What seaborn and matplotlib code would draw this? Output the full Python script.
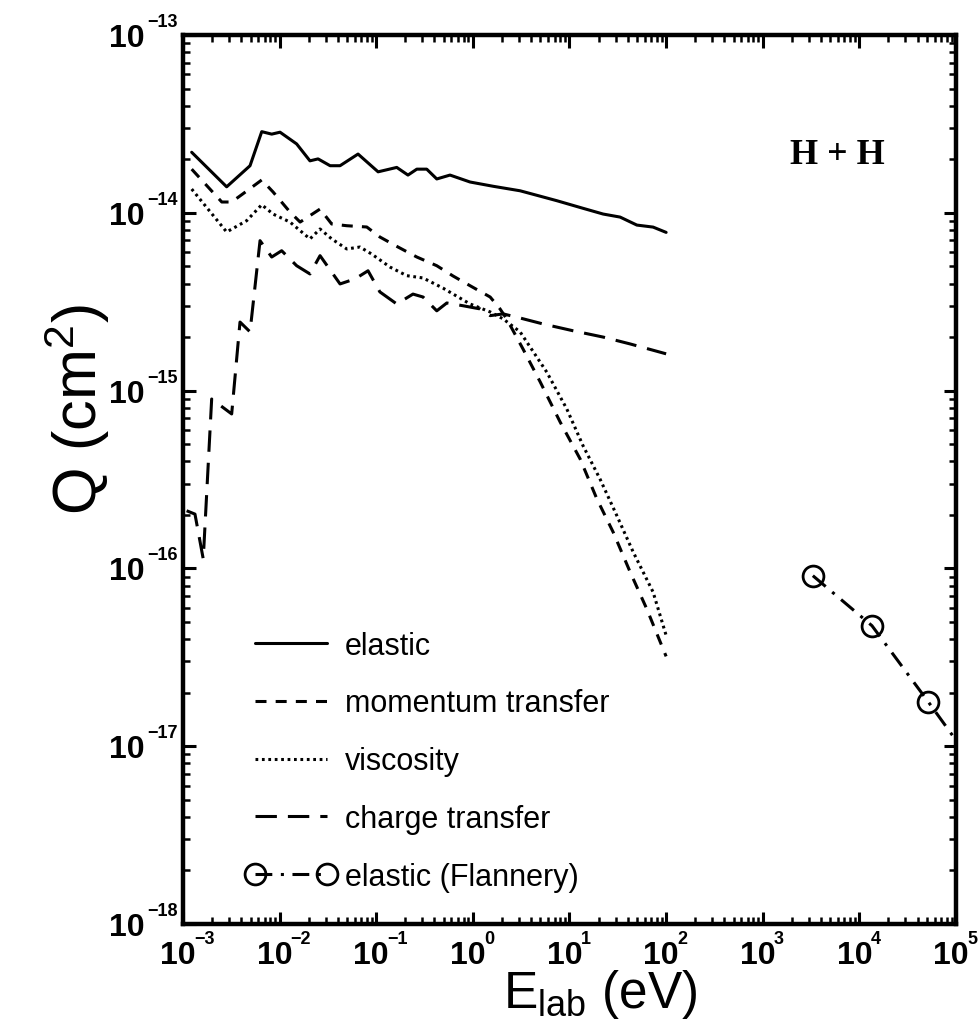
import numpy as np
import pandas as pd
import matplotlib
matplotlib.use("Agg")
import matplotlib.pyplot as plt
import seaborn as sns
from matplotlib.ticker import LogLocator, FixedLocator, NullFormatter
from matplotlib.transforms import blended_transform_factory, offset_copy

# ---------------- data ----------------
elastic_x = [1.23e-3, 2.83e-3, 4.94e-3, 6.53e-3, 8.28e-3, 1.01e-2, 1.50e-2, 2.06e-2, 2.50e-2,
             3.33e-2, 4.22e-2, 6.48e-2, 0.1045, 0.163, 0.213, 0.263, 0.333, 0.423, 0.580,
             0.935, 1.62, 3.08, 4.97, 7.38, 13.8, 22.3, 33.4, 49.8, 73.3, 100]
elastic_y = [2.19e-14, 1.40e-14, 1.84e-14, 2.86e-14, 2.77e-14, 2.84e-14, 2.44e-14, 1.96e-14, 2.01e-14,
             1.84e-14, 1.84e-14, 2.14e-14, 1.70e-14, 1.80e-14, 1.63e-14, 1.76e-14, 1.76e-14, 1.55e-14, 1.63e-14,
             1.49e-14, 1.41e-14, 1.33e-14, 1.24e-14, 1.17e-14, 1.06e-14, 9.84e-15, 9.46e-15, 8.53e-15, 8.31e-15, 7.76e-15]

momentum_x = [1.23e-3, 2.52e-3, 3.19e-3, 4.18e-3, 6.53e-3, 8.55e-3, 1.28e-2, 1.63e-2, 2.62e-2, 3.46e-2,
              4.95e-2, 7.98e-2, 0.109, 0.168, 0.263, 0.423, 0.624, 0.935, 1.51, 1.91, 2.24, 3.31,
              4.97, 8.0, 12.9, 19.2, 28.3, 42.4, 63.1, 100]
momentum_y = [1.76e-14, 1.15e-14, 1.15e-14, 1.28e-14, 1.53e-14, 1.31e-14, 1.01e-14, 8.87e-15, 1.05e-14, 8.65e-15,
              8.46e-15, 8.32e-15, 7.31e-15, 6.42e-15, 5.64e-15, 5.04e-15, 4.41e-15, 3.89e-15, 3.36e-15, 2.88e-15,
              2.53e-15, 1.71e-15, 1.12e-15, 6.66e-16, 4.12e-16, 2.46e-16, 1.60e-16, 9.55e-17, 5.91e-17, 3.2e-17]

viscosity_x = [1.23e-3, 2.83e-3, 4.56e-3, 6.53e-3, 8.55e-3, 1.28e-2, 2.06e-2, 2.62e-2, 3.46e-2, 4.95e-2,
               6.79e-2, 8.97e-2, 0.139, 0.207, 0.305, 0.491, 0.935, 1.51, 2.06, 3.08, 5.82, 9.38,
               13.8, 20.7, 30.9, 45.5, 73.3, 100]
viscosity_y = [1.36e-14, 7.80e-15, 9.03e-15, 1.11e-14, 9.84e-15, 8.87e-15, 7.13e-15, 8.11e-15, 7.13e-15, 6.26e-15,
               6.42e-15, 5.86e-15, 4.95e-15, 4.43e-15, 4.30e-15, 3.77e-15, 3.07e-15, 2.77e-15, 2.53e-15, 2.14e-15,
               1.27e-15, 7.88e-16, 4.90e-16, 3.18e-16, 1.98e-16, 1.24e-16, 7.36e-17, 4.2e-17]

charge_x = [1.09e-3, 1.33e-3, 1.62e-3, 1.98e-3, 2.32e-3, 3.19e-3, 3.89e-3, 4.94e-3, 6.27e-3, 8.28e-3,
            1.05e-2, 1.50e-2, 2.06e-2, 2.62e-2, 4.22e-2, 6.04e-2, 8.22e-2, 0.109, 0.163, 0.240, 0.305,
            0.423, 0.537, 0.793, 1.19, 1.51, 2.06, 3.08, 5.33, 10.9, 22.3, 42.4, 100]
charge_y = [2.11e-16, 2.02e-16, 1.13e-16, 8.97e-16, 8.41e-16, 7.39e-16, 2.43e-15, 2.14e-15, 6.97e-15, 5.64e-15,
            6.12e-15, 5.04e-15, 4.53e-15, 5.74e-15, 3.98e-15, 4.25e-15, 4.72e-15, 3.59e-15, 3.07e-15, 3.49e-15, 3.36e-15,
            2.81e-15, 3.11e-15, 3.00e-15, 2.88e-15, 2.64e-15, 2.70e-15, 2.56e-15, 2.37e-15, 2.17e-15, 2.00e-15, 1.83e-15, 1.61e-15]

flannery_x = [3.30e3, 1.35e4, 5.19e4, 1.0e5]
flannery_y = [9.10e-17, 4.76e-17, 1.77e-17, 1.08e-17]

series_labels = ["elastic", "momentum transfer", "viscosity", "charge transfer", "elastic (Flannery)"]
x_ticks = [1e-3, 1e-2, 1e-1, 1e0, 1e1, 1e2, 1e3, 1e4, 1e5]
y_ticks = [1e-18, 1e-17, 1e-16, 1e-15, 1e-14, 1e-13]

# ---------------- style ----------------
sns.set_theme(style="ticks")
plt.rcParams["font.family"] = ["Liberation Sans", "DejaVu Sans"]
plt.rcParams["mathtext.fontset"] = "custom"
plt.rcParams["mathtext.rm"] = "Liberation Sans"
plt.rcParams["mathtext.bf"] = "Liberation Sans:bold"
plt.rcParams["mathtext.it"] = "Liberation Sans:italic"
for k in ["text.color", "axes.labelcolor", "xtick.color", "ytick.color", "axes.edgecolor"]:
    plt.rcParams[k] = "black"

fig = plt.figure(figsize=(9.79, 10.20), dpi=100)
ax = fig.add_axes([183 / 979, 1 - 925 / 1020, (956 - 183) / 979, (925 - 36) / 1020])
ax.set_xscale("log")
ax.set_yscale("log")

LW = 2.2
styles = [
    dict(linestyle="-"),
    dict(linestyle=(0, (3.6, 3.0))),
    dict(linestyle=(0, (0.9, 1.2))),
    dict(linestyle=(0, (7, 3.6))),
    dict(linestyle=(0, (5.5, 2.8, 1.0, 2.8)), marker="o", markersize=15, markerfacecolor="none",
         markeredgecolor="black", markeredgewidth=2.0, markevery=[0, 1, 2]),
]
xs = [elastic_x, momentum_x, viscosity_x, charge_x, flannery_x]
ys = [elastic_y, momentum_y, viscosity_y, charge_y, flannery_y]

for xv, yv, lab, st in zip(xs, ys, series_labels, styles):
    df = pd.DataFrame({"E": xv, "Q": yv})
    sns.lineplot(data=df, x="E", y="Q", ax=ax, color="black", linewidth=LW,
                 label=lab, sort=False, estimator=None, **st)

ax.set_xlim(1e-3, 1e5)
ax.set_ylim(1e-18, 1e-13)

# ticks
ax.xaxis.set_major_locator(FixedLocator(x_ticks))
ax.yaxis.set_major_locator(FixedLocator(y_ticks))
ax.xaxis.set_minor_locator(LogLocator(base=10, subs=np.arange(2, 10), numticks=200))
ax.yaxis.set_minor_locator(LogLocator(base=10, subs=np.arange(2, 10), numticks=200))
for axis in (ax.xaxis, ax.yaxis):
    axis.set_major_formatter(NullFormatter())
    axis.set_minor_formatter(NullFormatter())
ax.tick_params(which="both", direction="in", top=True, right=True, colors="black")
ax.tick_params(which="major", length=9, width=2.2)
ax.tick_params(which="minor", length=5, width=1.8)
for s in ax.spines.values():
    s.set_linewidth(3.2)
    s.set_color("black")

# tick labels: "10" with a small raised exponent
BASE_FS = 23
EXP_FS = 13
tr_y = blended_transform_factory(ax.transAxes, ax.transData)
tr_x = blended_transform_factory(ax.transData, ax.transAxes)
def exp_text(e):
    return "\u2212%d" % abs(e) if e < 0 else "%d" % e
for t in y_ticks:
    e = int(round(np.log10(t)))
    ax.text(0, t, "10", transform=offset_copy(tr_y, fig=fig, x=-38, y=-11, units="dots"),
            ha="right", va="baseline", fontsize=BASE_FS, fontweight="bold", clip_on=False)
    ax.text(0, t, exp_text(e), transform=offset_copy(tr_y, fig=fig, x=-36, y=9, units="dots"),
            ha="left", va="baseline", fontsize=EXP_FS, fontweight="bold", clip_on=False)
for t in x_ticks:
    e = int(round(np.log10(t)))
    ax.text(t, 0, "10", transform=offset_copy(tr_x, fig=fig, x=-5, y=-39, units="dots"),
            ha="center", va="baseline", fontsize=BASE_FS, fontweight="bold", clip_on=False)
    ax.text(t, 0, exp_text(e), transform=offset_copy(tr_x, fig=fig, x=11, y=-19, units="dots"),
            ha="left", va="baseline", fontsize=EXP_FS, fontweight="bold", clip_on=False)

ax.set_xlabel(r"E$_{\mathrm{lab}}$ (eV)", fontsize=37)
ax.xaxis.label.set_va("baseline")
ax.xaxis.set_label_coords(0.539, -0.0935)
ax.set_ylabel(r"Q (cm$^{2}$)", fontsize=44)
ax.yaxis.set_label_coords(-0.092, 0.58)

ax.text(0.847, 0.866, "H + H", transform=ax.transAxes, ha="center", va="center",
        fontsize=26, fontweight="bold", family=["Liberation Serif", "DejaVu Serif"])

handles = ax.get_lines()[:5]
leg = ax.legend(handles=handles, labels=series_labels, loc="upper left",
                bbox_to_anchor=(0.0815, 0.33), frameon=False, fontsize=22,
                handlelength=2.94, handletextpad=0.3, labelspacing=0.91, numpoints=2,
                borderaxespad=0, borderpad=0)
ax.grid(False)
fig.patch.set_facecolor("white")
fig.savefig("out.png", dpi=100, facecolor="white")
